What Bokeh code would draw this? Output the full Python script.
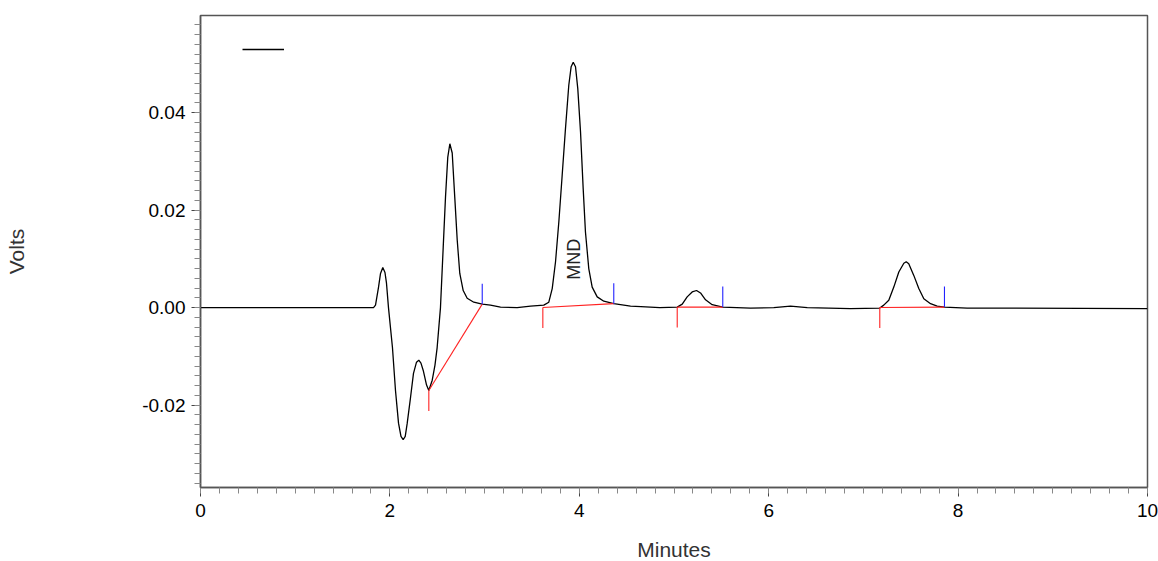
import math
from bokeh.plotting import figure
from bokeh.models import (Range1d, SingleIntervalTicker, PrintfTickFormatter,
                          Legend, LegendItem)
from bokeh.core.properties import value
from bokeh.embed import file_html
from bokeh.resources import INLINE

# ---- chromatogram trace (minutes, volts) ----
time_min = [0.0, 1.827, 1.848, 1.880, 1.901, 1.925, 1.948, 1.964, 1.985, 2.027,
            2.059, 2.091, 2.117, 2.140, 2.162, 2.183, 2.218, 2.249, 2.281, 2.305,
            2.328, 2.352, 2.387, 2.411, 2.447, 2.476, 2.499, 2.534, 2.563, 2.587,
            2.611, 2.633, 2.658, 2.685, 2.711, 2.738, 2.774, 2.816, 2.886, 2.975,
            3.062, 3.168, 3.344, 3.485, 3.625, 3.678, 3.714, 3.749, 3.784, 3.819,
            3.854, 3.889, 3.914, 3.936, 3.960, 3.984, 4.013, 4.041, 4.065, 4.100,
            4.136, 4.189, 4.259, 4.364, 4.541, 4.650, 4.850, 5.034, 5.087, 5.139,
            5.192, 5.238, 5.280, 5.333, 5.403, 5.515, 5.808, 6.054, 6.230, 6.407,
            6.864, 7.173, 7.215, 7.268, 7.321, 7.374, 7.427, 7.452, 7.479, 7.532,
            7.585, 7.638, 7.709, 7.779, 7.856, 8.096, 10.0]
volts = [0.0, 0.0, 0.0005, 0.0042, 0.0070, 0.0082, 0.0072, 0.0050, 0.0000, -0.0082,
         -0.0170, -0.0237, -0.0264, -0.0271, -0.0264, -0.0237, -0.0184, -0.0135, -0.0112, -0.0108,
         -0.0114, -0.0129, -0.0159, -0.0170, -0.0149, -0.0118, -0.0082, 0.0000, 0.0124, 0.0226,
         0.0308, 0.0336, 0.0317, 0.0226, 0.0138, 0.0070, 0.0035, 0.0019, 0.0011, 0.0007,
         0.0005, 0.0001, 0.0000, 0.0003, 0.0005, 0.0011, 0.0039, 0.0094, 0.0176, 0.0271,
         0.0367, 0.0456, 0.0494, 0.0503, 0.0494, 0.0449, 0.0360, 0.0244, 0.0155, 0.0080,
         0.0042, 0.0022, 0.0013, 0.0008, 0.0003, 0.0002, 0.0000, 0.0001, 0.0007, 0.0022,
         0.0032, 0.0035, 0.0030, 0.0016, 0.0006, 0.0001, -0.0001, 0.0000, 0.0003, 0.0000,
         -0.0002, -0.0001, 0.0005, 0.0015, 0.0042, 0.0073, 0.0091, 0.0094, 0.0090, 0.0066,
         0.0039, 0.0018, 0.0008, 0.0003, 0.0001, -0.0001, -0.0002]

# ---- integration events (peak start / end) ----
peak_start_t = [2.411, 3.615, 5.034, 7.173]
peak_start_v = [-0.0170, 0.0000, 0.0001, 0.0000]
peak_end_t = [2.975, 4.364, 5.515, 7.856]
peak_end_v = [0.0007, 0.0008, 0.0001, 0.0001]
mark_len = 0.0042

# ---- peak label ----
label_text = ["MND"]
label_t = [3.949]
label_v = [0.0099]

x_ticks_interval = 2
y_ticks_interval = 0.02

p = figure(frame_width=947, frame_height=472, output_backend="svg",
           toolbar_location=None, x_range=Range1d(0, 10),
           y_range=Range1d(-0.0369, 0.0599),
           min_border_left=200, min_border_top=15, min_border_right=11,
           min_border_bottom=60)
p.background_fill_color = "white"
p.border_fill_color = "white"
p.grid.visible = False
p.outline_line_color = "#555555"
p.outline_line_width = 1.5

# axes
p.xaxis.ticker = SingleIntervalTicker(interval=x_ticks_interval, num_minor_ticks=10)
p.yaxis.ticker = SingleIntervalTicker(interval=y_ticks_interval, num_minor_ticks=10)
p.yaxis.formatter = PrintfTickFormatter(format="%.2f")
for ax in (p.xaxis[0], p.yaxis[0]):
    ax.axis_line_color = "#555555"
    ax.axis_line_width = 1.5
    ax.major_tick_line_color = "#444444"
    ax.minor_tick_line_color = "#888888"
    ax.major_tick_out = 9
    ax.major_tick_in = 0
    ax.minor_tick_out = 6
    ax.minor_tick_in = 0
    ax.major_label_text_font = "Liberation Sans"
    ax.major_label_text_font_size = "19px"
    ax.major_label_text_color = "black"
    ax.axis_label_text_font = "Liberation Sans"
    ax.axis_label_text_font_size = "21px"
    ax.axis_label_text_font_style = "normal"
    ax.axis_label_text_color = "#333333"
p.xaxis.axis_label = "Minutes"
p.yaxis.axis_label = "Volts"
p.xaxis.major_label_standoff = 7
p.xaxis.axis_label_standoff = 18
p.yaxis.major_label_standoff = 6
p.yaxis.axis_label_standoff = 111

# trace
main = p.line(time_min, volts, line_color="black", line_width=1.3)

# integration baselines and event markers
p.segment(x0=peak_start_t, y0=peak_start_v, x1=peak_end_t, y1=peak_end_v,
          line_color="#ff2222", line_width=1.1)
p.segment(x0=peak_start_t, y0=peak_start_v, x1=peak_start_t,
          y1=[v - mark_len for v in peak_start_v], line_color="#ff2222", line_width=1.1)
p.segment(x0=peak_end_t, y0=peak_end_v, x1=peak_end_t,
          y1=[v + mark_len for v in peak_end_v], line_color="#2222ff", line_width=1.1)

# peak name
p.text(x=label_t, y=label_v, text=label_text, angle=math.pi / 2,
       text_align="center", text_baseline="middle",
       text_font=value("Liberation Sans"), text_font_size="18px", text_color="#222222")

legend = Legend(items=[LegendItem(label=value(""), renderers=[main])],
                location=(42, 428), padding=0, margin=0, spacing=0,
                glyph_width=42, glyph_height=20, label_standoff=0,
                background_fill_alpha=0, border_line_alpha=0)
p.add_layout(legend)

open("out.html", "w").write(file_html(p, INLINE))
